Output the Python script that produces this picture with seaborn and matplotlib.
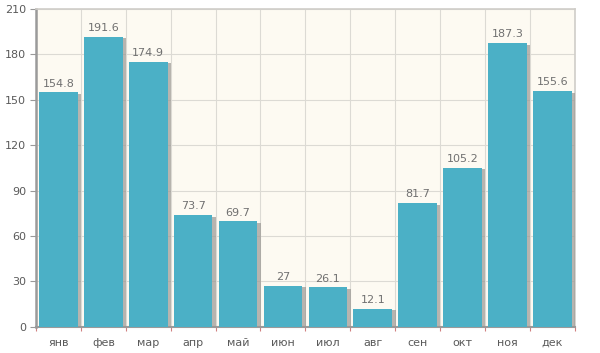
import matplotlib
matplotlib.use("Agg")
import matplotlib.pyplot as plt
import matplotlib.patheffects as pe
import seaborn as sns
import pandas as pd

months = ["янв", "фев", "мар", "апр", "май", "июн", "июл", "авг", "сен", "окт", "ноя", "дек"]
values = [154.8, 191.6, 174.9, 73.7, 69.7, 27, 26.1, 12.1, 81.7, 105.2, 187.3, 155.6]
labels = ["154.8", "191.6", "174.9", "73.7", "69.7", "27", "26.1", "12.1", "81.7", "105.2", "187.3", "155.6"]
yticks = [0, 30, 60, 90, 120, 150, 180, 210]

df = pd.DataFrame({"month": months, "value": values})

sns.set_theme(style="white")
plt.rcParams["font.family"] = ["DejaVu Sans"]

fig = plt.figure(figsize=(6.0, 3.53), dpi=100)
ax = fig.add_axes([0.06, 0.074, 0.898, 0.901])
ax.set_facecolor("#fdfaf2")
fig.patch.set_facecolor("white")

sns.barplot(data=df, x="month", y="value", color="#4bb0c6", width=0.86,
            saturation=1, ax=ax, zorder=3)
for p in ax.patches:
    p.set_linewidth(0)
    p.set_path_effects([pe.SimplePatchShadow(offset=(2.5, -1), shadow_rgbFace="#9a9793", alpha=0.7),
                        pe.Normal()])

for i, (v, lab) in enumerate(zip(values, labels)):
    ax.text(i, v + 2.5, lab, ha="center", va="bottom", fontsize=8, color="#707070", zorder=5)

ax.set_ylim(0, 210)
ax.set_xlim(-0.5, 11.5)
ax.set_yticks(yticks)
ax.set_yticklabels([str(t) for t in yticks], fontsize=8, color="#5a5a5a")
ax.set_xticks(range(12))
ax.set_xticklabels(months, fontsize=8, color="#5a5a5a")
ax.set_xlabel("")
ax.set_ylabel("")

for y in yticks[1:]:
    ax.axhline(y, color="#dcdad4", lw=0.8, zorder=1)
for x in [i + 0.5 for i in range(11)]:
    ax.axvline(x, color="#dcdad4", lw=0.8, zorder=1)

ax.tick_params(axis="x", length=0, pad=8)
ax.tick_params(axis="y", length=4, width=0.8, color="#999999", pad=3, left=True)

for side in ["top", "right"]:
    ax.spines[side].set_color("#cfcdc8")
    ax.spines[side].set_linewidth(1.2)
ax.spines["left"].set_color("#9a9a9a")
ax.spines["left"].set_linewidth(1.8)
ax.spines["bottom"].set_color("#9a9a9a")
ax.spines["bottom"].set_linewidth(1.5)

ax.set_xticks([i + 0.5 for i in range(-1, 12)], minor=True)
ax.tick_params(axis="x", which="minor", length=3, color="#d08080", width=0.8, bottom=True)

fig.savefig("out.png", dpi=100)
